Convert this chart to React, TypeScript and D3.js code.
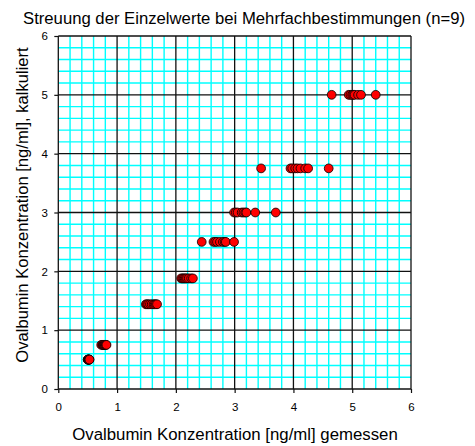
import React, { useEffect, useRef } from "react";
import * as d3 from "d3";

const title = "Streuung der Einzelwerte bei Mehrfachbestimmungen (n=9)";
const xTitle = "Ovalbumin Konzentration [ng/ml] gemessen";
const yTitle = "Ovalbumin Konzentration [ng/ml], kalkuliert";
const ticks = [0, 1, 2, 3, 4, 5, 6];
const minorTicks = [0.2, 0.4, 0.6, 0.8, 1.2, 1.4, 1.6, 1.8, 2.2, 2.4, 2.6, 2.8, 3.2, 3.4, 3.6, 3.8, 4.2, 4.4, 4.6, 4.8, 5.2, 5.4, 5.6, 5.8];

// calculated concentration levels (y) and measured single values (x), n=9 each
const levels = [0.5, 0.75, 1.44, 1.88, 2.5, 3.0, 3.75, 5.0];
const measured: number[][] = [
  [0.5, 0.5, 0.51, 0.51, 0.52, 0.52, 0.52, 0.53, 0.53],
  [0.73, 0.75, 0.76, 0.77, 0.78, 0.79, 0.8, 0.81, 0.82],
  [1.49, 1.51, 1.53, 1.56, 1.59, 1.62, 1.64, 1.66, 1.68],
  [2.09, 2.11, 2.13, 2.15, 2.17, 2.19, 2.22, 2.26, 2.29],
  [2.44, 2.64, 2.67, 2.7, 2.75, 2.8, 2.83, 2.85, 2.99],
  [2.99, 3.02, 3.05, 3.12, 3.15, 3.18, 3.2, 3.35, 3.7],
  [3.45, 3.95, 3.98, 4.03, 4.07, 4.12, 4.2, 4.25, 4.6],
  [4.65, 4.94, 4.97, 5.0, 5.02, 5.04, 5.1, 5.15, 5.4],
];

export default function App() {
  const ref = useRef<SVGSVGElement>(null);
  useEffect(() => {
    const svg = d3.select(ref.current);
    svg.selectAll("*").remove();
    const x = d3.scaleLinear().domain([0, 6]).range([58.3, 411]);
    const y = d3.scaleLinear().domain([0, 6]).range([389, 36]);
    const font = "'Liberation Sans', Arial, sans-serif";
    const g = svg.append("g");

    // minor grid
    g.selectAll("line.mx").data(minorTicks).enter().append("line").attr("class", "mx")
      .attr("x1", (d) => x(d)).attr("x2", (d) => x(d))
      .attr("y1", y(0)).attr("y2", y(6)).attr("stroke", "#00ffff").attr("stroke-width", 1.4);
    g.selectAll("line.my").data(minorTicks).enter().append("line").attr("class", "my")
      .attr("y1", (d) => y(d)).attr("y2", (d) => y(d))
      .attr("x1", x(0)).attr("x2", x(6)).attr("stroke", "#00ffff").attr("stroke-width", 1.4);
    // major grid
    g.selectAll("line.Mx").data(ticks).enter().append("line").attr("class", "Mx")
      .attr("x1", (d) => x(d)).attr("x2", (d) => x(d))
      .attr("y1", y(0)).attr("y2", y(6)).attr("stroke", "#111").attr("stroke-width", 1.3);
    g.selectAll("line.My").data(ticks).enter().append("line").attr("class", "My")
      .attr("y1", (d) => y(d)).attr("y2", (d) => y(d))
      .attr("x1", x(0)).attr("x2", x(6)).attr("stroke", "#111").attr("stroke-width", 1.3);

    // axes
    const xAxis = d3.axisBottom(x).tickValues(ticks).tickSize(4).tickFormat(d3.format("d"));
    const yAxis = d3.axisLeft(y).tickValues(ticks).tickSize(4).tickFormat(d3.format("d"));
    const ax = svg.append("g").attr("transform", `translate(0,${y(0)})`).call(xAxis);
    const ay = svg.append("g").attr("transform", `translate(${x(0)},0)`).call(yAxis);
    [ax, ay].forEach((a) => {
      a.select(".domain").remove();
      a.selectAll("line").attr("stroke", "#111").attr("stroke-width", 1.2);
      a.selectAll("text").attr("font-family", font).attr("font-size", 11.5).attr("fill", "#000");
    });
    ax.selectAll("text").attr("y", 10).attr("dy", "1em");
    ay.selectAll("text").attr("x", -10.5);

    // points
    const pts = levels.flatMap((lv, i) => measured[i].map((m) => ({ m, lv })));
    svg.append("g").selectAll("circle").data(pts).enter().append("circle")
      .attr("cx", (d) => x(d.m)).attr("cy", (d) => y(d.lv)).attr("r", 4.4)
      .attr("fill", "#ff0000").attr("stroke", "#000").attr("stroke-width", 0.8);

    // titles
    svg.append("text").attr("x", 244).attr("y", 24).attr("text-anchor", "middle")
      .attr("font-family", font).attr("font-size", 16.7).text(title);
    svg.append("text").attr("x", 235).attr("y", 440).attr("text-anchor", "middle")
      .attr("font-family", font).attr("font-size", 16.8).text(xTitle);
    svg.append("text").attr("transform", `translate(28,205) rotate(-90)`).attr("text-anchor", "middle")
      .attr("font-family", font).attr("font-size", 16.6).text(yTitle);
  }, []);
  return (
    <svg ref={ref} width={475} height={446}
      style={{ position: "absolute", left: 0, top: 0, background: "#fff" }} />
  );
}
